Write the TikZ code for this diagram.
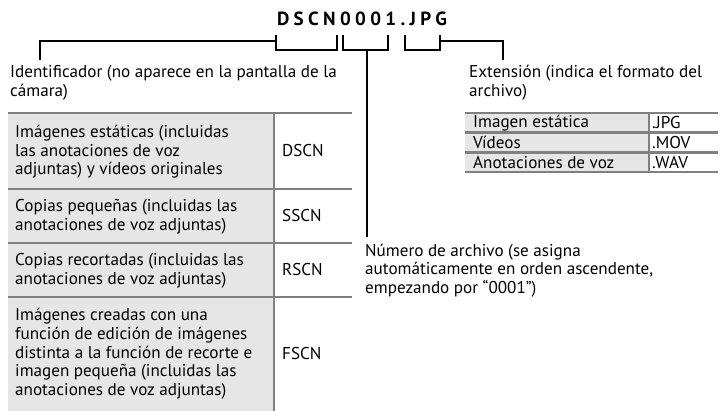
\documentclass[tikz,border=0pt]{standalone}
\usepackage{fontspec}
\setmainfont{PT Sans}
\usetikzlibrary{positioning}
\definecolor{cellgray}{HTML}{E6E6E6}
\definecolor{rulegray}{HTML}{808080}

\begin{document}
\begin{tikzpicture}[x=1pt,y=-1pt,
  txt/.style={font=\fontsize{17.1}{18.7}\selectfont},
  lbl/.style={txt, anchor=north west, align=left, inner sep=0pt},
  dcell/.style={txt, anchor=west, align=left, inner sep=0pt},
  ccell/.style={txt, anchor=west, inner sep=0pt},
  tabrule/.style={draw=rulegray, line width=2.5pt},
  brk/.style={draw=black, line width=2pt}
]
\useasboundingbox (0,0) rectangle (720,411);

% file name
\node[font=\bfseries\fontsize{19}{19}\selectfont\addfontfeature{LetterSpace=23}, anchor=base] (fname) at (362,26) {DSCN0001.JPG};

% labels
\node[lbl] (ident) at (10,65.2) {Identificador (no aparece en la pantalla de la\\cámara)};
\node[lbl] (ext) at (469,65.2) {Extensión (indica el formato del\\archivo)};
\node[lbl] (num) at (365,243.5) {Número de archivo (se asigna\\automáticamente en orden ascendente,\\empezando por “0001”)};

% brackets
\coordinate (identtop) at (40,41);
\coordinate (exttop) at (503,41);
\coordinate (numtop) at (366.5,50);
\draw[brk] (276,35) -- (276,50) -- (337,50) -- (337,35);
\draw[brk] (343,35) -- (343,50) -- (388,50) -- (388,35);
\draw[brk] (405,35) -- (405,50) -- (440,50) -- (440,35);
\draw[brk, shorten >=5pt] (276,41) -- (identtop) -- (identtop |- ident.north);
\draw[brk, shorten >=5pt] (440,41) -- (exttop) -- (exttop |- ext.north);
\draw[brk, shorten >=6pt] (numtop) -- (numtop |- num.north);

% identifier table
\fill[cellgray] (8,113) rectangle (274,411);
\node[dcell] (r1) at (15,152) {Imágenes estáticas (incluidas\\las anotaciones de voz\\adjuntas) y vídeos originales};
\node[dcell] (r2) at (15,216.5) {Copias pequeñas (incluidas las\\anotaciones de voz adjuntas)};
\node[dcell] (r3) at (15,270.5) {Copias recortadas (incluidas las\\anotaciones de voz adjuntas)};
\node[dcell] (r4) at (15,354) {Imágenes creadas con una\\función de edición de imágenes\\distinta a la función de recorte e\\imagen pequeña (incluidas las\\anotaciones de voz adjuntas)};
\node[ccell] (c1) at (282,151) {DSCN};
\node[ccell] (c2) at (282,216) {SSCN};
\node[ccell] (c3) at (282,270) {RSCN};
\node[ccell] (c4) at (282,353.5) {FSCN};
\draw[tabrule] (8,113) -- (352,113);
\draw[tabrule] (8,189) -- (352,189);
\draw[tabrule] (8,243) -- (352,243);
\draw[tabrule] (8,297) -- (352,297);
\draw[tabrule] (274,113) -- (274,411);

% extension table
\fill[cellgray] (465,113) rectangle (649,172);
\node[dcell] (e1) at (473,122.8) {Imagen estática};
\node[dcell] (e2) at (473,142.5) {Vídeos};
\node[dcell] (e3) at (473,162.2) {Anotaciones de voz};
\node[ccell] (x1) at (652,122.8) {.JPG};
\node[ccell] (x2) at (652,142.5) {.MOV};
\node[ccell] (x3) at (652,162.2) {.WAV};
\draw[tabrule] (465,113) -- (718,113);
\draw[tabrule] (465,132.7) -- (718,132.7);
\draw[tabrule] (465,152.3) -- (718,152.3);
\draw[tabrule] (465,172) -- (718,172);
\draw[tabrule] (649,113) -- (649,172);
\end{tikzpicture}
\end{document}
